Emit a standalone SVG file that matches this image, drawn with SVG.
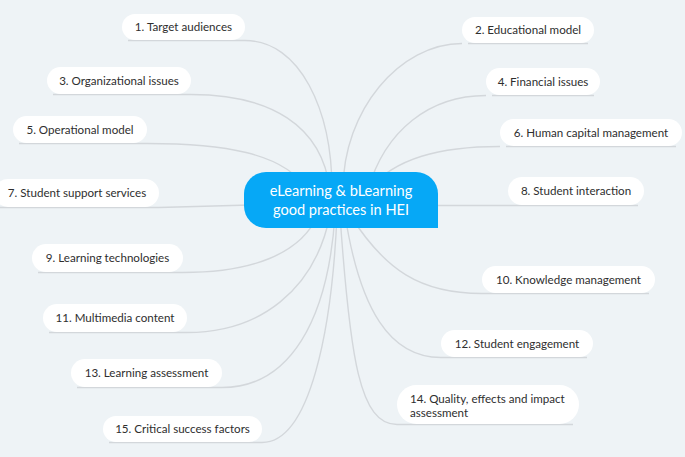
<svg xmlns="http://www.w3.org/2000/svg" width="685" height="457" viewBox="0 0 685 457">
<style>
.bg{fill:#eef3f6}
.conn path{fill:none;stroke:#d3d7db;stroke-width:1.4}
.pill{fill:#ffffff}
.lbl{font-family:Lato,"Open Sans",sans-serif;font-size:11.6px;fill:#2e2e2e;text-anchor:middle}
.lbl2{font-family:Lato,"Open Sans",sans-serif;font-size:11.6px;fill:#2e2e2e}
.root{fill:#06a8f6}
.rootlbl{font-family:Lato,"Open Sans",sans-serif;font-size:14.6px;fill:#ffffff;text-anchor:middle}
</style>
<rect class="bg" x="0" y="0" width="685" height="457"/>
<g id="connectors" class="conn">
<path d="M128,40.5 H245 C300,40.5 332,110 332,190"/>
<path d="M53,94.5 H191 C270,94.5 322,125 330,190"/>
<path d="M19,143.5 H147 C220,143.5 285,152 307,190"/>
<path d="M468,43.5 H588 M462,43.5 C400,43.5 343,110 343,190"/>
<path d="M492,95.5 H594 M486,95.5 C430,95.5 385,130 368,190"/>
<path d="M506,146.5 H676 M500,146.5 C440,146.5 395,158 368,190"/>
<path d="M0,207.5 H159 L250,205"/>
<path d="M430,205.5 H638"/>
<path d="M318,215 C300,255 250,272.5 183,272.5 H38"/>
<path d="M330,215 C315,290 260,332.5 187,332.5 H49"/>
<path d="M335,215 C328,320 290,387.5 222,387.5 H77"/>
<path d="M337,215 C332,330 310,442.5 262,442.5 H109"/>
<path d="M340,215 C350,360 360,424.5 397,424.5 H573"/>
<path d="M345,215 C360,310 390,357.5 441,357.5 H587"/>
<path d="M350,215 C385,270 420,293.5 482,293.5 H649"/>
</g>
<g id="root">
<path class="root" d="M266,172 H416 A22,22 0 0 1 438,194 V228 H266 A22,22 0 0 1 244,206 V194 A22,22 0 0 1 266,172 Z"/>
<text class="rootlbl" x="341" y="196">eLearning &amp; bLearning</text>
<text class="rootlbl" x="341" y="215">good practices in HEI</text>
</g>
<g id="n1"><rect class="pill" x="122" y="14" width="123" height="26" rx="13"/><text class="lbl" x="183.5" y="31">1. Target audiences</text></g>
<g id="n2"><rect class="pill" x="462" y="17" width="132" height="26" rx="13"/><text class="lbl" x="528" y="34">2. Educational model</text></g>
<g id="n3"><rect class="pill" x="47" y="67" width="144" height="27" rx="13.5"/><text class="lbl" x="119" y="84.5">3. Organizational issues</text></g>
<g id="n4"><rect class="pill" x="486" y="68" width="114" height="27" rx="13.5"/><text class="lbl" x="543" y="85.5">4. Financial issues</text></g>
<g id="n5"><rect class="pill" x="13" y="116" width="134" height="27" rx="13.5"/><text class="lbl" x="80" y="133.5">5. Operational model</text></g>
<g id="n6"><rect class="pill" x="500" y="119" width="182" height="27" rx="13.5"/><text class="lbl" x="591" y="136.5">6. Human capital management</text></g>
<g id="n7"><rect class="pill" x="-6" y="179" width="165" height="28" rx="14"/><text class="lbl" x="77" y="197">7. Student support services</text></g>
<g id="n8"><rect class="pill" x="508" y="177" width="136" height="28" rx="14"/><text class="lbl" x="576" y="195">8. Student interaction</text></g>
<g id="n9"><rect class="pill" x="32" y="244" width="151" height="28" rx="14"/><text class="lbl" x="107.5" y="262">9. Learning technologies</text></g>
<g id="n10"><rect class="pill" x="482" y="266" width="173" height="27" rx="13.5"/><text class="lbl" x="568.5" y="283.5">10. Knowledge management</text></g>
<g id="n11"><rect class="pill" x="43" y="304" width="144" height="28" rx="14"/><text class="lbl" x="115" y="322">11. Multimedia content</text></g>
<g id="n12"><rect class="pill" x="441" y="330" width="152" height="27" rx="13.5"/><text class="lbl" x="517" y="347.5">12. Student engagement</text></g>
<g id="n13"><rect class="pill" x="71" y="359" width="151" height="28" rx="14"/><text class="lbl" x="146.5" y="377">13. Learning assessment</text></g>
<g id="n14"><rect class="pill" x="397" y="385" width="182" height="39" rx="19.5"/><text class="lbl2" x="410" y="403">14. Quality, effects and impact</text><text class="lbl2" x="410" y="417">assessment</text></g>
<g id="n15"><rect class="pill" x="103" y="416" width="159" height="26" rx="13"/><text class="lbl" x="182.5" y="433">15. Critical success factors</text></g>
</svg>
